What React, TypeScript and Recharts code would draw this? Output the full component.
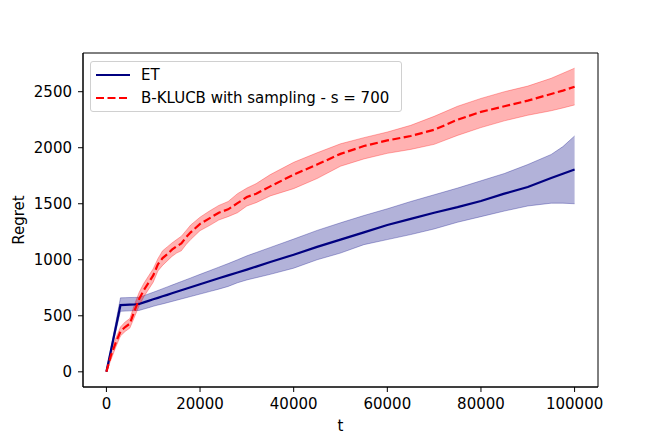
import React from 'react';
import { ComposedChart, Area, Line, XAxis, YAxis, ReferenceArea } from 'recharts';

// time steps
const ts = [
  0, 1000, 2000, 3000, 4000, 5000, 6000, 7000, 8000, 9000, 10000, 11000, 12000, 13000, 14000,
  15000, 16000, 17000, 18000, 20000, 22000, 24000, 26000, 28000, 30000, 32000, 35000, 40000,
  45000, 50000, 55000, 60000, 65000, 70000, 75000, 80000, 85000, 90000, 95000, 97500, 100000,
];

// ET regret: mean and band
const etMean = [
  0, 197, 395, 595, 597, 599, 601, 606, 620, 633, 647, 660, 674, 687, 701,
  714, 728, 741, 755, 782, 808, 835, 861, 887, 912, 939, 980, 1045,
  1115, 1180, 1245, 1310, 1365, 1420, 1470, 1525, 1590, 1650, 1730, 1768, 1805,
];
const etHigh = [
  0, 220, 440, 660, 662, 663, 664, 665, 680, 695, 710, 726, 742, 758, 774,
  790, 806, 822, 838, 870, 902, 934, 966, 1000, 1035, 1065, 1110, 1185,
  1262, 1330, 1395, 1455, 1520, 1580, 1640, 1705, 1770, 1850, 1940, 2010, 2105,
];
const etLow = [
  0, 180, 360, 540, 542, 544, 546, 548, 560, 572, 585, 596, 606, 617, 628,
  639, 650, 661, 672, 694, 716, 738, 762, 795, 820, 840, 870, 925,
  1000, 1060, 1135, 1180, 1225, 1275, 1335, 1385, 1435, 1480, 1505, 1505, 1500,
];

// B-KLUCB with sampling: mean and band
const bkMean = [
  0, 150, 260, 360, 400, 430, 545, 650, 730, 795, 860, 960, 1015, 1050, 1090,
  1120, 1145, 1200, 1245, 1320, 1370, 1420, 1450, 1505, 1560, 1590, 1655, 1760,
  1850, 1945, 2015, 2065, 2105, 2160, 2250, 2320, 2370, 2420, 2480, 2510, 2545,
];
const bkHigh = [
  10, 190, 300, 400, 445, 475, 600, 710, 790, 855, 920, 1010, 1080, 1115, 1150,
  1180, 1210, 1260, 1310, 1380, 1435, 1485, 1520, 1590, 1640, 1680, 1760, 1870,
  1955, 2035, 2090, 2140, 2200, 2280, 2370, 2440, 2500, 2550, 2620, 2665, 2710,
];
const bkLow = [
  0, 110, 220, 320, 360, 390, 490, 590, 670, 735, 800, 900, 950, 990, 1030,
  1060, 1080, 1135, 1180, 1260, 1305, 1355, 1385, 1420, 1480, 1510, 1570, 1635,
  1725, 1835, 1900, 1950, 1985, 2030, 2110, 2180, 2240, 2290, 2330, 2355, 2382,
];

const xTicks = [0, 20000, 40000, 60000, 80000, 100000];
const yTicks = [0, 500, 1000, 1500, 2000, 2500];

const data = ts.map((t, i) => ({
  t,
  et: etMean[i],
  etBand: [etLow[i], etHigh[i]],
  bk: bkMean[i],
  bkBand: [bkLow[i], bkHigh[i]],
}));

const FONT = '"DejaVu Sans", sans-serif';
const FS = 15;
const tickStyle = { fill: '#000', fontSize: FS, fontFamily: FONT };

const Legend = () => (
  <div
    style={{
      position: 'absolute', left: 90, top: 61, width: 310, height: 49,
      border: '1px solid #d0d0d0', borderRadius: 3, background: 'rgba(255,255,255,0.8)',
      fontFamily: FONT, fontSize: FS, color: '#000',
    }}
  >
    <svg width={45} height={49} style={{ position: 'absolute', left: 0, top: 0 }}>
      <line x1={5} x2={39} y1={13} y2={13} stroke="navy" strokeWidth={2.2} />
      <line x1={5} x2={39} y1={36} y2={36} stroke="red" strokeWidth={2.2} strokeDasharray="8 3.5" />
    </svg>
    <div style={{ position: 'absolute', left: 50, top: 3, lineHeight: '20px', whiteSpace: 'nowrap' }}>ET</div>
    <div style={{ position: 'absolute', left: 50, top: 26, lineHeight: '20px', whiteSpace: 'nowrap' }}>
      B-KLUCB with sampling - s = 700
    </div>
  </div>
);

export default function App() {
  return (
    <div style={{ position: 'absolute', left: 0, top: 0, width: 664, height: 443, background: '#fff' }}>
      <ComposedChart width={664} height={443} data={data} margin={{ top: 53, right: 66, bottom: 0, left: 0 }}>
        <XAxis
          dataKey="t" type="number" domain={[-5000, 105000]} ticks={xTicks} allowDataOverflow
          height={56} tick={tickStyle} tickSize={5} tickMargin={6}
          axisLine={{ stroke: '#000' }} tickLine={{ stroke: '#000' }}
          label={{ value: 't', position: 'insideBottom', offset: 12, fill: '#000', fontSize: FS, fontFamily: FONT }}
        />
        <YAxis
          type="number" domain={[-135.5, 2845.5]} ticks={yTicks} allowDataOverflow
          width={83} tick={tickStyle} tickSize={5} tickMargin={6}
          axisLine={{ stroke: '#000' }} tickLine={{ stroke: '#000' }}
          label={{
            content: (p: any) => {
              const vb = p.viewBox;
              const cx = vb.x + 19;
              const cy = vb.y + vb.height / 2;
              return (
                <text x={cx} y={cy} transform={`rotate(-90 ${cx} ${cy})`} textAnchor="middle"
                  dominantBaseline="central" fontSize={FS} fontFamily={FONT} fill="#000">
                  Regret
                </text>
              );
            },
          }}
        />
        <Area dataKey="etBand" type="linear" fill="navy" fillOpacity={0.3} stroke="navy" strokeOpacity={0.3}
          strokeWidth={1} isAnimationActive={false} activeDot={false} />
        <Line dataKey="et" type="linear" stroke="navy" strokeWidth={2.2} dot={false} isAnimationActive={false} />
        <Area dataKey="bkBand" type="linear" fill="red" fillOpacity={0.3} stroke="red" strokeOpacity={0.3}
          strokeWidth={1} isAnimationActive={false} activeDot={false} />
        <Line dataKey="bk" type="linear" stroke="red" strokeWidth={2.2} strokeDasharray="8 3.5" dot={false}
          isAnimationActive={false} />
        <ReferenceArea x1={-5000} x2={105000} y1={-135.5} y2={2845.5} fill="none" stroke="#000"
          strokeWidth={1} ifOverflow="visible" />
      </ComposedChart>
      <Legend />
    </div>
  );
}
